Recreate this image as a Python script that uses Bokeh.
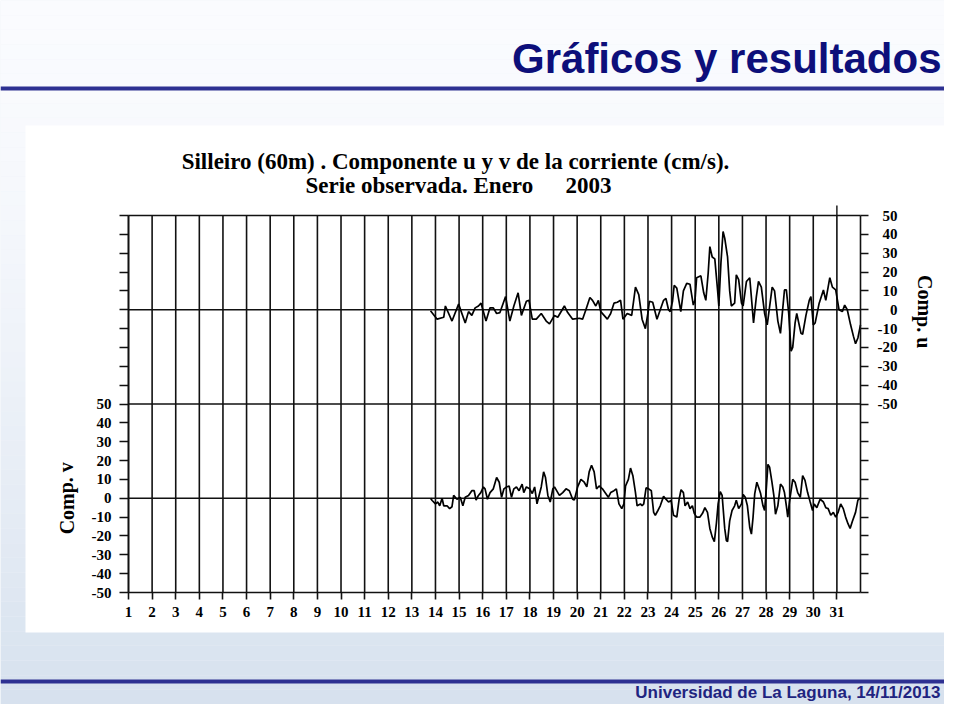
from bokeh.plotting import figure
from bokeh.models import Range1d, LinearAxis, FixedTicker, Label
from bokeh.embed import file_html
from bokeh.resources import INLINE

# ---------------- data ----------------
days = list(range(1, 32))
day_labels = [str(d) for d in days]

u_day = [13.79, 14.07, 14.35, 14.42, 14.70, 14.98, 15.26, 15.40, 15.54, 15.68,
         15.82, 15.93, 16.14, 16.31, 16.45, 16.59, 16.73, 16.97, 17.15, 17.32,
         17.50, 17.64, 17.85, 17.96, 18.10, 18.27, 18.48, 18.69, 18.83, 19.04,
         19.18, 19.46, 19.60, 19.81, 20.09, 20.23, 20.37, 20.54, 20.65, 20.79,
         20.90, 21.00, 21.28, 21.42, 21.56, 21.70, 21.84, 21.94, 22.12, 22.31,
         22.47, 22.61, 22.75, 22.89, 23.00, 23.06, 23.20, 23.38, 23.52, 23.66,
         23.76, 23.87, 23.94, 24.04, 24.11, 24.22, 24.39, 24.50, 24.64, 24.78,
         24.92, 24.99, 25.06, 25.24, 25.36, 25.45, 25.55, 25.62, 25.72, 25.83,
         25.95, 26.00, 26.09, 26.18, 26.25, 26.37, 26.46, 26.53, 26.67, 26.74,
         26.84, 26.96, 27.03, 27.17, 27.31, 27.47, 27.59, 27.68, 27.80, 27.94,
         28.05, 28.26, 28.36, 28.50, 28.61, 28.78, 28.86, 28.96, 29.06, 29.13,
         29.23, 29.30, 29.48, 29.55, 29.69, 29.83, 29.90, 30.00, 30.08, 30.25,
         30.43, 30.53, 30.70, 30.81, 30.95, 31.09, 31.23, 31.33, 31.44, 31.58,
         31.70, 31.79, 31.89, 32.00]
u_val = [-0.5, -5, -4, 2, -6, 3, -7, -1, -3, 1,
         2, 3.5, -6, 1, 1, -2, -1.5, 7, -6, 2,
         9, -3, 4.5, 5, -5, -5, -2, -6, -7.5, -3,
         -4, 2, -1.5, -5, -4.5, -5, 0, 6.5, 5, 2,
         5, -1, -5, -2, 3.5, 4, 5, -5, -2, -3,
         12, 8, -5, -10, -1.5, 4.5, 4, -5, 0, 5,
         6, 0, -1, 4.5, 13, 11.5, -1, 10, 14, 13.5,
         2.5, 5, 17, 18, 9, 5, 19.5, 33.5, 28, 27,
         10, 2, 25, 41.5, 38, 28, 10, 2, 3.5, 18.5,
         16, 3.5, 2, 15, 17, -7, 7, 15, 12, -2,
         -8, 12, 10, -6, -12.5, 10.5, 10.5, -2, -22, -20,
         -7, -2, -12.5, -13, -3, 5, 7, -8, -7, 3.5,
         10.5, 5, 17, 12, 10.5, 0, -1, 2.5, 0, -8,
         -14, -18, -15, -8]

v_day = [13.79, 13.86, 14.00, 14.10, 14.18, 14.28, 14.35, 14.49, 14.60, 14.70,
         14.77, 14.91, 15.05, 15.16, 15.26, 15.40, 15.54, 15.64, 15.72, 15.82,
         15.92, 16.03, 16.10, 16.20, 16.31, 16.45, 16.59, 16.70, 16.80, 16.90,
         17.01, 17.12, 17.22, 17.32, 17.43, 17.54, 17.67, 17.74, 17.85, 17.99,
         18.10, 18.20, 18.30, 18.41, 18.48, 18.58, 18.66, 18.76, 18.86, 18.97,
         19.04, 19.18, 19.25, 19.39, 19.53, 19.67, 19.81, 19.88, 20.02, 20.16,
         20.30, 20.41, 20.51, 20.61, 20.72, 20.82, 20.93, 21.07, 21.21, 21.32,
         21.42, 21.56, 21.66, 21.77, 21.89, 21.98, 22.05, 22.17, 22.26, 22.36,
         22.47, 22.54, 22.68, 22.75, 22.82, 22.92, 23.03, 23.14, 23.24, 23.31,
         23.42, 23.52, 23.66, 23.76, 23.87, 23.98, 24.08, 24.22, 24.32, 24.40,
         24.50, 24.57, 24.68, 24.78, 24.88, 24.96, 25.06, 25.20, 25.31, 25.41,
         25.52, 25.62, 25.72, 25.81, 25.90, 25.97, 26.06, 26.14, 26.25, 26.32,
         26.37, 26.46, 26.56, 26.67, 26.74, 26.84, 26.96, 27.03, 27.12, 27.21,
         27.31, 27.38, 27.45, 27.52, 27.61, 27.68, 27.77, 27.87, 27.94, 28.01,
         28.08, 28.15, 28.25, 28.33, 28.40, 28.50, 28.61, 28.71, 28.78, 28.86,
         28.92, 28.99, 29.13, 29.23, 29.34, 29.45, 29.55, 29.65, 29.76, 29.87,
         29.97, 30.04, 30.15, 30.29, 30.43, 30.53, 30.63, 30.74, 30.85, 30.95,
         31.05, 31.16, 31.27, 31.37, 31.47, 31.56, 31.65, 31.79, 31.89, 31.98]
v_val = [0, -1.2, -3, -2, -4, 0, -4, -4, -5.5, -4.5,
         1.5, -0.5, 0.5, -4, 0.5, 1.5, 4, 4, -1, 1.5,
         3, 6, 5, -0.5, 3, 5, 11, 8.5, 0.5, 5,
         6, 6.5, 0.5, 5, 6, 4, 7.5, 3, 6, 5,
         2.5, 6, -3, 2.5, 6, 14, 11, 1.5, -2, 5,
         6, 3, 1.5, 3, 5, 4, -0.5, -1, 6, 10,
         8.5, 6, 14, 17.5, 14, 5, 6.5, 5, 2.5, 0.5,
         3, 4, 5, -3, -5.5, -3, 6.5, 10, 16, 12,
         3, -4, -3, -4, -3, 5.5, 5, 4, -7.5, -9,
         -6.5, -4, 1, -0.5, -2, -1.2, -9, -10, -0.5, 4.5,
         3, -4, -2, -5.5, -4, -8, -10, -10, -8, -5,
         -7.5, -16, -20.5, -23, -13, -3, 3.5, 1.5, -16, -22.5,
         -23, -12, -6.5, -4, -1, -5.5, -3, 2, 0.5, -4,
         -15.5, -19, -10, 2.3, 8.5, 6, 2.5, -4, -6.5, 5,
         18, 16.5, 8.5, 1.5, -8.5, -4, 7.5, 6, 3, -4,
         -10, -2, 10, 8.5, 3, 0.5, 12, 9.5, 3, -2,
         -6.5, -3, -5, -0.5, -2, -5, -5.5, -9, -7.5, -10,
         -7.5, -3, -5.5, -10, -13.5, -16, -12.5, -7.5, -1, 0]

v_ticks = list(range(-50, 51, 10))
u_ticks = list(range(-50, 51, 10))

slide_title = "Gráficos y resultados"
chart_title_1 = "Silleiro (60m) . Componente u y v de la corriente (cm/s)."
chart_title_2a = "Serie observada. Enero"
chart_title_2b = "2003"
v_name = "Comp. v"
u_name = "Comp. u"
footer = "Universidad de La Laguna, 14/11/2013"

# ---------------- geometry ----------------
W, H = 944, 704
XL_PX, XR_PX = 128, 860      # px of day 1 and day 32
YT_PX, YB_PX = 215, 592      # px of top (u=50) and bottom (v=-50)
DAY0, DAY1 = 1, 32
Y_LO, Y_HI = -50, 150        # v units; u panel sits 100 above
U_SHIFT = 100
PXD = (XR_PX - XL_PX) / (DAY1 - DAY0)
PYU = (YB_PX - YT_PX) / (Y_HI - Y_LO)
x_start = DAY0 - XL_PX / PXD
x_end = x_start + W / PXD
y_end = Y_HI + YT_PX / PYU
y_start = y_end - H / PYU


def dx(px):
    return x_start + px / PXD


def dy(py):
    return y_end - py / PYU


p = figure(width=W, height=H, x_range=Range1d(x_start, x_end),
           y_range=Range1d(y_start, y_end), min_border=0,
           toolbar_location=None, output_backend="svg",
           x_axis_location=None, y_axis_location=None, title=None,
           background_fill_color="#eef2f8", border_fill_color="#eef2f8")
p.outline_line_color = None
p.grid.visible = False
p.extra_y_ranges = {"u": Range1d(y_start - U_SHIFT, y_end - U_SHIFT)}

# slide background gradient
N = 48
top_c = (250, 251, 254)
bot_c = (214, 225, 238)
lefts, rights, tops, bottoms, cols = [], [], [], [], []
for i in range(N):
    t0 = i / N
    t1 = (i + 1) / N
    tm = (t0 + t1) / 2
    k = tm ** 1.6
    c = tuple(int(round(top_c[j] + (bot_c[j] - top_c[j]) * k)) for j in range(3))
    lefts.append(x_start)
    rights.append(x_end)
    tops.append(y_end - (y_end - y_start) * t0)
    bottoms.append(y_end - (y_end - y_start) * t1)
    cols.append("#%02x%02x%02x" % c)
p.quad(left=lefts, right=rights, top=tops, bottom=bottoms,
       fill_color=cols, line_color=None)

# white image area
p.quad(left=[dx(25)], right=[dx(946)], top=[dy(125)], bottom=[dy(632)],
       fill_color="white", line_color=None)

# blue rules
RULE = "#2e3192"
p.quad(left=[x_start, x_start], right=[x_end, x_end],
       top=[dy(86), dy(679)], bottom=[dy(90), dy(683)],
       fill_color=RULE, line_color=None)

# grid: vertical day lines and horizontal panel lines
LC = "#111111"
p.segment(x0=days, y0=[Y_LO] * len(days), x1=days, y1=[Y_HI] * len(days),
          line_color=LC, line_width=1.6)
p.segment(x0=[days[-1]], y0=[Y_HI], x1=[days[-1]], y1=[dy(205)],
          line_color=LC, line_width=1.4)
hlev = [0, 50, 100, 150]
p.segment(x0=[DAY0] * len(hlev), y0=hlev, x1=[DAY1] * len(hlev), y1=hlev,
          line_color=LC, line_width=1.6)

# series
p.line(u_day, u_val, y_range_name="u", line_color="black", line_width=1.7)
p.line(v_day, v_val, line_color="black", line_width=1.7)

TICK_FONT = "Liberation Serif"


def style_axis(ax, tick_out):
    ax.axis_line_color = LC
    ax.axis_line_width = 1.6
    ax.major_tick_line_color = LC
    ax.major_tick_line_width = 1.6
    ax.major_tick_out = tick_out
    ax.major_tick_in = 0
    ax.minor_tick_line_color = None
    ax.major_label_text_font = TICK_FONT
    ax.major_label_text_font_style = "bold"
    ax.major_label_text_font_size = "15px"
    ax.major_label_text_color = "black"


# left axis (v)
lt = list(range(Y_LO, Y_HI + 1, 10))
left_ax = LinearAxis(fixed_location=DAY0, bounds=(Y_LO, Y_HI),
                     ticker=FixedTicker(ticks=lt, minor_ticks=[]))
left_ax.major_label_overrides = {t: (str(t) if t in v_ticks else "") for t in lt}
style_axis(left_ax, 9)
left_ax.major_label_standoff = 8
p.add_layout(left_ax, "left")

# right axis (u)


def rpad(s):
    w = sum(0.333 if ch == "-" else 0.5 for ch in s)
    gap = 1.333 - w
    out = ""
    while gap >= 0.49:
        out += "\u2007"
        gap -= 0.5
    while gap >= 0.24:
        out += "\u2008"
        gap -= 0.25
    while gap >= 0.07:
        out += "\u200a"
        gap -= 0.083
    return out + s


rt = list(range(Y_LO - U_SHIFT, Y_HI - U_SHIFT + 1, 10))
right_ax = LinearAxis(fixed_location=DAY1, y_range_name="u",
                      bounds=(Y_LO - U_SHIFT, Y_HI - U_SHIFT),
                      ticker=FixedTicker(ticks=rt, minor_ticks=[]))
right_ax.major_label_overrides = {t: (rpad(str(t)) if t in u_ticks else "") for t in rt}
style_axis(right_ax, 8)
right_ax.major_label_standoff = 9
p.add_layout(right_ax, "right")

# bottom axis (days)
bot_ax = LinearAxis(fixed_location=Y_LO, bounds=(DAY0, DAY1),
                    ticker=FixedTicker(ticks=days, minor_ticks=[]))
bot_ax.major_label_overrides = {d: lab for d, lab in zip(days, day_labels)}
style_axis(bot_ax, 7)
bot_ax.major_label_standoff = 7
p.add_layout(bot_ax, "below")

# texts
NAVY = "#0d0f7a"
p.add_layout(Label(x=dx(941), y=dy(58), text=slide_title, text_align="right",
                   text_baseline="middle", text_font="Liberation Sans",
                   text_font_style="bold", text_font_size="42px",
                   text_color=NAVY))
p.add_layout(Label(x=dx(940), y=dy(692), text=footer, text_align="right",
                   text_baseline="middle", text_font="Liberation Sans",
                   text_font_style="bold", text_font_size="17px",
                   text_color="#1f2480"))
p.add_layout(Label(x=dx(455), y=dy(161), text=chart_title_1, text_align="center",
                   text_baseline="middle", text_font=TICK_FONT,
                   text_font_style="bold", text_font_size="23px",
                   text_color="black"))
p.add_layout(Label(x=dx(305), y=dy(185), text=chart_title_2a, text_align="left",
                   text_baseline="middle", text_font=TICK_FONT,
                   text_font_style="bold", text_font_size="23px",
                   text_color="black"))
p.add_layout(Label(x=dx(565), y=dy(185), text=chart_title_2b, text_align="left",
                   text_baseline="middle", text_font=TICK_FONT,
                   text_font_style="bold", text_font_size="23px",
                   text_color="black"))
p.add_layout(Label(x=dx(66), y=0, text=v_name, text_align="center",
                   text_baseline="middle", angle=1.5708, text_font=TICK_FONT,
                   text_font_style="bold", text_font_size="20px",
                   text_color="black"))
p.add_layout(Label(x=dx(924), y=U_SHIFT - 1, text=u_name, text_align="center",
                   text_baseline="middle", angle=-1.5708, text_font=TICK_FONT,
                   text_font_style="bold", text_font_size="20px",
                   text_color="black"))

open("out.html", "w").write(file_html(p, INLINE))
